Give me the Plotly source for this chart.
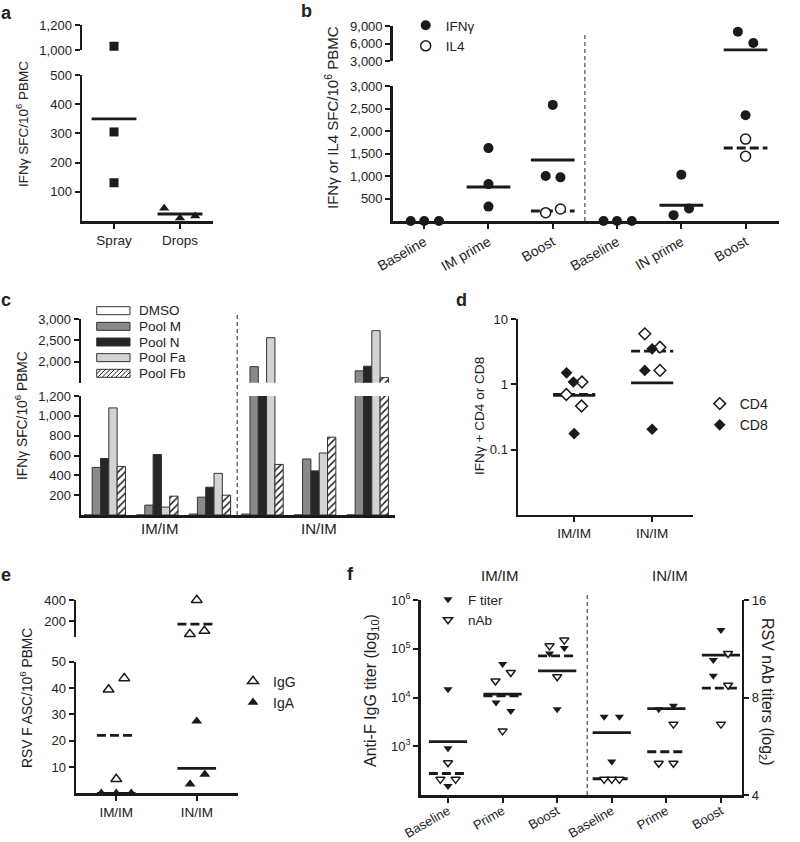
import math
import plotly.graph_objects as go

W, H = 800, 842
FONT = "Liberation Sans, Arial, Helvetica, sans-serif"
INK = "#1a1a1a"
TXT = "#222222"

# ======================= DATA =======================
# --- panel a ---
a_cats = ["Spray", "Drops"]
a_spray = [1030, 305, 131]
a_drops = [44, 10, 17]
a_means = [350, 24]
a_lower_ticks = [100, 200, 300, 400, 500]
a_upper_ticks = [1000, 1200]

# --- panel b ---
b_cats = ["Baseline", "IM prime", "Boost", "Baseline", "IN prime", "Boost"]
b_ifng = [[0, 0, 0], [1620, 820, 320], [2580, 1000, 970],
          [0, 0, 0], [1030, 130, 280], [8000, 6100, 2350]]
b_il4 = [[], [], [185, 266], [], [], [1820, 1440]]
b_ifng_mean = [None, 755, 1355, None, 350, 4900]
b_il4_mean = [None, None, 222, None, None, 1622]
b_lower_ticks = [500, 1000, 1500, 2000, 2500, 3000]
b_upper_ticks = [3000, 6000, 9000]

# --- panel c ---
c_groups = ["IM/IM", "IN/IM"]
c_series = ["DMSO", "Pool M", "Pool N", "Pool Fa", "Pool Fb"]
c_dmso = [0, 0, 10, 10, 0, 0]
c_pool_m = [480, 100, 180, 1880, 565, 1780]
c_pool_n = [570, 610, 280, 1400, 445, 1890]
c_pool_fa = [1080, 80, 420, 2565, 625, 2730]
c_pool_fb = [490, 190, 200, 510, 785, 1620]
c_lower_ticks = [200, 400, 600, 800, 1000, 1200]
c_upper_ticks = [2000, 2500, 3000]

# --- panel d ---
d_cats = ["IM/IM", "IN/IM"]
d_cd4 = [[1.09, 0.70, 0.466], [5.98, 3.73, 1.64]]
d_cd8 = [[1.51, 1.09, 0.176], [3.52, 1.64, 0.205]]
d_cd4_mean = [0.70, 3.24]
d_cd8_mean = [0.68, 1.06]
d_ticks = [0.1, 1, 10]

# --- panel e ---
e_cats = ["IM/IM", "IN/IM"]
e_igg = [[39.4, 43.7, 5.4], [400, 75, 105]]
e_iga = [[0, 0, 0], [27.4, 3.5, 7.2]]
e_igg_mean = [22, 170]
e_iga_mean = [0, 9.5]
e_lower_ticks = [10, 20, 30, 40, 50]
e_upper_ticks = [200, 400]

# --- panel f ---
f_cats = ["Baseline", "Prime", "Boost", "Baseline", "Prime", "Boost"]
f_groups = ["IM/IM", "IN/IM"]
f_ftiter = [[14800, 910, 153], [48400, 7900, 5300], [80200, 103000, 5750],
            [4010, 4010, 484], [5750, 6750], [242000, 58500, 27900]]
f_nab = [[5.03, 4.47, 4.47], [9.56, 9.0, 6.31], [11.55, 12.03, 9.27],
         [4.47, 4.47, 4.47], [6.62, 5.01, 5.01], [10.94, 8.73, 6.62]]
f_ftiter_mean = [1250, 11700, 35300, 1910, 5940, 74100]
f_nab_mean = [4.66, 8.1, 10.76, 4.49, 5.44, 8.55]
f_left_ticks = [1e3, 1e4, 1e5, 1e6]
f_right_ticks = [4, 8, 16]

# ---------- horizontal jitter of points within a category (layout) ----------
a_jit = [[0, 0, 0], [-0.24, 0, 0.23]]
b_ifng_jit = [[-0.21, 0, 0.23], [0, 0, 0], [0, -0.11, 0.12],
              [-0.21, 0, 0.23], [0, -0.12, 0.12], [-0.12, 0.12, 0]]
b_il4_jit = [[], [], [-0.11, 0.12], [], [], [0, 0]]
d_cd4_jit = [[0.10, -0.10, 0.095], [-0.094, 0.10, 0.10]]
d_cd8_jit = [[-0.097, -0.01, 0], [0, -0.094, 0]]
e_igg_jit = [[-0.095, 0.10, 0], [0, -0.085, 0.095]]
e_iga_jit = [[-0.186, 0, 0.186], [0, -0.083, 0.10]]
f_ftiter_jit = [[0, 0, 0], [0, -0.12, 0.15], [-0.14, 0.13, 0],
                [-0.14, 0.14, 0], [-0.14, 0.13], [0, -0.14, -0.14]]
f_nab_jit = [[0, -0.14, 0.14], [0.15, -0.13, 0], [-0.14, 0.13, 0],
             [-0.14, 0, 0.14], [0.13, -0.14, 0.13], [0.13, 0.13, 0]]


# ======================= HELPERS =======================
def px(x):
    return x / W


def py(y):
    return 1 - y / H


def dx(x0, x1):
    return [x0 / W, x1 / W]


def dy(top, bot):
    return [1 - bot / H, 1 - top / H]


def split_points(groups, jit, lo_max=None, start=0):
    xl, yl, xu, yu = [], [], [], []
    for i, (vals, offs) in enumerate(zip(groups, jit)):
        for v, o in zip(vals, offs):
            if lo_max is not None and v > lo_max:
                xu.append(start + i + o)
                yu.append(v)
            else:
                xl.append(start + i + o)
                yl.append(v)
    return xl, yl, xu, yu


def split_means(means, hw, lo_max=None):
    xl, yl, xu, yu = [], [], [], []
    for i, m in enumerate(means):
        if m is None:
            continue
        if lo_max is not None and m > lo_max:
            xu += [i - hw, i + hw, None]
            yu += [m, m, None]
        else:
            xl += [i - hw, i + hw, None]
            yl += [m, m, None]
    return xl, yl, xu, yu


fig = go.Figure()


def add_pts(x, y, xa, ya, marker, name=None, legend=None):
    if not x:
        return
    fig.add_trace(go.Scatter(
        x=x, y=y, xaxis=xa, yaxis=ya, mode="markers", marker=marker,
        cliponaxis=False, name=name or "pts", showlegend=legend is not None,
        legend=legend if legend else "legend", hoverinfo="skip"))


def add_line(x, y, xa, ya, dash="solid"):
    if not x:
        return
    fig.add_trace(go.Scatter(
        x=x, y=y, xaxis=xa, yaxis=ya, mode="lines", connectgaps=False,
        line=dict(color=INK, width=2.8, dash=dash), name="mean",
        showlegend=False, hoverinfo="skip"))


DASH = "9px,4px"


def mk(symbol, size, filled):
    if filled:
        return dict(symbol=symbol, size=size, color=INK, line=dict(width=0))
    return dict(symbol=symbol, size=size, color="white",
                line=dict(color=INK, width=1.5))


# ======================= PANEL a =======================
for v_grp, gi, sym in ((a_spray, 0, "square"), (a_drops, 1, "triangle-up")):
    xl, yl, xu, yu = split_points([v_grp], [a_jit[gi]], lo_max=a_lower_ticks[-1], start=gi)
    add_pts(xl, yl, "x", "y", mk(sym, 9, True))
    add_pts(xu, yu, "x2", "y2", mk(sym, 9, True))
xl, yl, xu, yu = split_means(a_means, 0.34, lo_max=a_lower_ticks[-1])
add_line(xl, yl, "x", "y")
add_line(xu, yu, "x2", "y2")

# ======================= PANEL b =======================
xl, yl, xu, yu = split_means(b_ifng_mean, 0.34, lo_max=b_lower_ticks[-1])
add_line(xl, yl, "x3", "y3")
add_line(xu, yu, "x4", "y4")
xl, yl, xu, yu = split_means(b_il4_mean, 0.34, lo_max=b_lower_ticks[-1])
add_line(xl, yl, "x3", "y3", DASH)
add_line(xu, yu, "x4", "y4", DASH)
xl, yl, xu, yu = split_points(b_ifng, b_ifng_jit, lo_max=b_lower_ticks[-1])
add_pts(xl, yl, "x3", "y3", mk("circle", 10, True), "IFNγ", "legend")
add_pts(xu, yu, "x4", "y4", mk("circle", 10, True))
xl, yl, xu, yu = split_points(b_il4, b_il4_jit, lo_max=b_lower_ticks[-1])
add_pts(xl, yl, "x3", "y3", mk("circle", 10, False), "IL4", "legend")
add_pts(xu, yu, "x4", "y4", mk("circle", 10, False))

# ======================= PANEL c =======================
c_vals = [c_dmso, c_pool_m, c_pool_n, c_pool_fa, c_pool_fb]
c_fill = ["white", "#8a8a8a", "#262626", "#d3d3d3", "white"]
for k, (name, vals) in enumerate(zip(c_series, c_vals)):
    for xa, ya in (("x5", "y5"), ("x6", "y6")):
        marker = dict(color=c_fill[k], line=dict(color="#333333", width=1))
        if name == "Pool Fb":
            marker["pattern"] = dict(shape="/", fgcolor="#222222", bgcolor="white",
                                     size=5, solidity=0.3)
        fig.add_trace(go.Bar(x=list(range(len(vals))), y=vals, name=name,
                             xaxis=xa, yaxis=ya, marker=marker,
                             showlegend=False, hoverinfo="skip"))

# ======================= PANEL d =======================
xl, yl, _, _ = split_means(d_cd8_mean, 0.27)
add_line(xl, yl, "x7", "y7")
xl, yl, _, _ = split_means(d_cd4_mean, 0.27)
add_line(xl, yl, "x7", "y7", DASH)
xl, yl, _, _ = split_points(d_cd4, d_cd4_jit)
add_pts(xl, yl, "x7", "y7", mk("diamond", 9, False), "CD4", "legend2")
xl, yl, _, _ = split_points(d_cd8, d_cd8_jit)
add_pts(xl, yl, "x7", "y7", mk("diamond", 9, True), "CD8", "legend2")

# ======================= PANEL e =======================
xl, yl, xu, yu = split_means(e_igg_mean, 0.24, lo_max=e_lower_ticks[-1])
add_line(xl, yl, "x8", "y8", DASH)
add_line(xu, yu, "x9", "y9", DASH)
xl, yl, xu, yu = split_means(e_iga_mean, 0.24, lo_max=e_lower_ticks[-1])
add_line(xl, yl, "x8", "y8")
add_line(xu, yu, "x9", "y9")
xl, yl, xu, yu = split_points(e_igg, e_igg_jit, lo_max=e_lower_ticks[-1])
add_pts(xl, yl, "x8", "y8", mk("triangle-up", 9.5, False), "IgG", "legend3")
add_pts(xu, yu, "x9", "y9", mk("triangle-up", 9.5, False))
xl, yl, xu, yu = split_points(e_iga, e_iga_jit, lo_max=e_lower_ticks[-1])
add_pts(xl, yl, "x8", "y8", mk("triangle-up", 9.5, True), "IgA", "legend3")
add_pts(xu, yu, "x9", "y9", mk("triangle-up", 9.5, True))

# ======================= PANEL f =======================
xl, yl, _, _ = split_means(f_ftiter_mean, 0.35)
add_line(xl, yl, "x10", "y10")
xl, yl, _, _ = split_means(f_nab_mean, 0.35)
add_line(xl, yl, "x10", "y11", DASH)
xl, yl, _, _ = split_points(f_ftiter, f_ftiter_jit)
add_pts(xl, yl, "x10", "y10", mk("triangle-down", 8, True), "F titer", "legend4")
xl, yl, _, _ = split_points(f_nab, f_nab_jit)
add_pts(xl, yl, "x10", "y11", mk("triangle-down", 8, False), "nAb", "legend4")

# ======================= AXES =======================
AX = dict(showline=True, linewidth=2.5, linecolor=INK, ticks="outside",
          ticklen=5, tickwidth=2, tickcolor=INK, showgrid=False, zeroline=False,
          automargin=False, fixedrange=True,
          tickfont=dict(family=FONT, size=13, color=TXT))


def yax(domain, rng, ticks, anchor, log=False, labels=None, **kw):
    d = dict(AX, domain=domain, anchor=anchor, tickvals=ticks,
             ticktext=labels if labels is not None else [f"{t:,}" for t in ticks])
    if log:
        d.update(type="log", range=rng)
    else:
        d.update(range=rng)
    d.update(kw)
    return d


def xax(domain, rng, anchor, cats=None, angle=0, size=13.5, **kw):
    d = dict(AX, domain=domain, anchor=anchor, range=rng,
             tickfont=dict(family=FONT, size=size, color=TXT))
    if cats is not None:
        d.update(tickvals=list(range(len(cats))), ticktext=cats, tickangle=angle)
    else:
        d.update(ticks="", showticklabels=False)
    d.update(kw)
    return d


def hidden_x(domain, rng, anchor):
    return dict(domain=domain, range=rng, anchor=anchor, visible=False,
                automargin=False, fixedrange=True)


a_xr = [-0.485, 1.5]
b_xr = [-0.49, 5.52]
c_xr = [-0.45, 5.52]
d_xr = [-0.72, 1.52]
e_xr = [-0.5, 1.516]
f_xr = [-0.5, 5.38]

layout_axes = dict(
    # a
    xaxis=xax(dx(82, 213), a_xr, "y", a_cats, size=13.5),
    yaxis=yax(dy(75, 221), [0, 500], a_lower_ticks, "x"),
    xaxis2=hidden_x(dx(82, 213), a_xr, "y2"),
    yaxis2=yax(dy(25, 50), [1000, 1200], a_upper_ticks, "x2"),
    # b
    xaxis3=xax(dx(392.7, 779), b_xr, "y3", b_cats, angle=-30, size=14),
    yaxis3=yax(dy(86, 221), [0, 3000], b_lower_ticks, "x3"),
    xaxis4=hidden_x(dx(392.7, 779), b_xr, "y4"),
    yaxis4=yax(dy(26, 61), [3000, 9000], b_upper_ticks, "x4"),
    # c
    xaxis5=xax(dx(81, 395), c_xr, "y5"),
    yaxis5=yax(dy(396, 515), [0, 1200], c_lower_ticks, "x5"),
    xaxis6=hidden_x(dx(81, 395), c_xr, "y6"),
    yaxis6=yax(dy(319.3, 382.7), [1500, 3000], c_upper_ticks, "x6"),
    # d
    xaxis7=xax(dx(518, 692.7), d_xr, "y7", d_cats, size=13.5),
    yaxis7=yax(dy(319.3, 514.7), [-2, 1], d_ticks, "x7", log=True,
               labels=[f"{t:g}" for t in d_ticks]),
    # e
    xaxis8=xax(dx(76, 238.3), e_xr, "y8", e_cats, size=13.5),
    yaxis8=yax(dy(661.7, 793.3), [0, 50], e_lower_ticks, "x8"),
    xaxis9=hidden_x(dx(76, 238.3), e_xr, "y9"),
    yaxis9=yax(dy(600, 636.75), [50, 400], e_upper_ticks, "x9"),
    # f
    xaxis10=xax(dx(420.7, 741.7), f_xr, "y10", f_cats, angle=-30, size=13,
                ticklabelstandoff=-4),
    yaxis10=yax(dy(600, 795), [2, 6], f_left_ticks, "x10", log=True,
                labels=[f"10<sup>{int(round(math.log10(t)))}</sup>" for t in f_left_ticks]),
    yaxis11=yax(dy(600, 795), [math.log10(f_right_ticks[0]), math.log10(f_right_ticks[-1])],
                f_right_ticks, "x10", log=True, labels=[str(t) for t in f_right_ticks],
                overlaying="y10", side="right"),
)

# ======================= SHAPES (dividers, c legend) =======================
shapes = []


def vdiv(xref, xval, ytop, ybot):
    shapes.append(dict(type="line", xref=xref, yref="paper", x0=xval, x1=xval,
                       y0=py(ybot), y1=py(ytop),
                       line=dict(color="#555555", width=1.3, dash="4px,3px")))


vdiv("x3", 2.5, 32, 221)
vdiv("x5", 2.52, 314, 515)
vdiv("x10", 2.55, 595, 795)

annotations = []

# c legend (boxes)
c_leg_x0, c_leg_x1, c_leg_h = 96.7, 130, 8
c_leg_top, c_leg_step = 310.7, 15.65
for k, name in enumerate(c_series):
    yc = c_leg_top + k * c_leg_step
    shapes.append(dict(type="rect", xref="paper", yref="paper",
                       x0=px(c_leg_x0), x1=px(c_leg_x1),
                       y0=py(yc + c_leg_h / 2), y1=py(yc - c_leg_h / 2),
                       fillcolor=c_fill[k], line=dict(color="#333333", width=1)))
    if name == "Pool Fb":
        ytop, ybot = yc - c_leg_h / 2, yc + c_leg_h / 2
        hh = ybot - ytop
        s = c_leg_x0 - hh
        while s < c_leg_x1:
            ax_, ay_, bx_, by_ = s, ybot, s + hh, ytop
            if ax_ < c_leg_x0:
                ay_ = ybot - (c_leg_x0 - ax_)
                ax_ = c_leg_x0
            if bx_ > c_leg_x1:
                by_ = ytop + (bx_ - c_leg_x1)
                bx_ = c_leg_x1
            if ax_ < bx_:
                shapes.append(dict(type="line", xref="paper", yref="paper",
                                   x0=px(ax_), y0=py(ay_), x1=px(bx_), y1=py(by_),
                                   line=dict(color="#222222", width=1)))
            s += 4.5
    annotations.append(dict(text=name, x=px(137), y=py(yc), xref="paper", yref="paper",
                            xanchor="left", yanchor="middle", showarrow=False,
                            font=dict(family=FONT, size=13.5, color=TXT)))


def note(text, x, y, size=13.5, angle=0, bold=False, anchor="center"):
    annotations.append(dict(text=f"<b>{text}</b>" if bold else text,
                            x=px(x), y=py(y), xref="paper", yref="paper",
                            xanchor=anchor, yanchor="middle", showarrow=False,
                            textangle=angle,
                            font=dict(family=FONT, size=size, color=TXT)))


# panel letters
for letter, lx, ly in (("a", 6, 13), ("b", 306, 11), ("c", 6, 300),
                       ("d", 461, 300), ("e", 6, 575), ("f", 350, 574)):
    note(letter, lx, ly, size=18, bold=True)

# axis titles
note("IFNγ SFC/10<sup>6</sup> PBMC", 22, 124, 13.5, -90)
note("IFNγ or IL4 SFC/10<sup>6</sup> PBMC", 331, 118, 15, -90)
note("IFNγ SFC/10<sup>6</sup> PBMC", 21, 416, 13.8, -90)
note("IFNγ + CD4 or CD8", 479, 416, 13.6, -90)
note("RSV F ASC/10<sup>6</sup> PBMC", 26, 698, 13.8, -90)
note("Anti-F IgG titer (log<sub>10</sub>)", 371, 691, 16, -90)
note("RSV nAb titers (log<sub>2</sub>)", 767, 692, 16, 90)

# group labels
note(c_groups[0], 160, 528, 15)
note(c_groups[1], 319.3, 528, 15)
note(f_groups[0], 500, 575, 15)
note(f_groups[1], 670, 575, 15)

LEG = dict(xanchor="left", yanchor="top", bgcolor="rgba(0,0,0,0)", borderwidth=0,
           itemwidth=30, tracegroupgap=0, itemclick=False, itemdoubleclick=False)

fig.update_layout(
    template="none",
    width=W, height=H, autosize=False,
    margin=dict(l=0, r=0, t=0, b=0, pad=0, autoexpand=False),
    paper_bgcolor="white", plot_bgcolor="rgba(0,0,0,0)",
    font=dict(family=FONT, size=13, color=TXT),
    barmode="group", bargap=0.21, bargroupgap=0,
    hovermode=False, showlegend=True,
    legend=dict(LEG, x=px(427.7 - 22), y=py(10), font=dict(family=FONT, size=13.5, color=TXT)),
    legend2=dict(LEG, x=px(721.7 - 22), y=py(388), font=dict(family=FONT, size=14, color=TXT)),
    legend3=dict(LEG, x=px(255 - 22), y=py(665.5), font=dict(family=FONT, size=14, color=TXT)),
    legend4=dict(LEG, x=px(450 - 22), y=py(584), font=dict(family=FONT, size=13.5, color=TXT)),
    shapes=shapes, annotations=annotations,
    **layout_axes,
)

fig.write_html(
    "out.html",
    config={"displayModeBar": False, "staticPlot": True},
    post_script="document.body.style.margin='0';document.body.style.padding='0';"
                "document.documentElement.style.overflow='hidden';",
)
